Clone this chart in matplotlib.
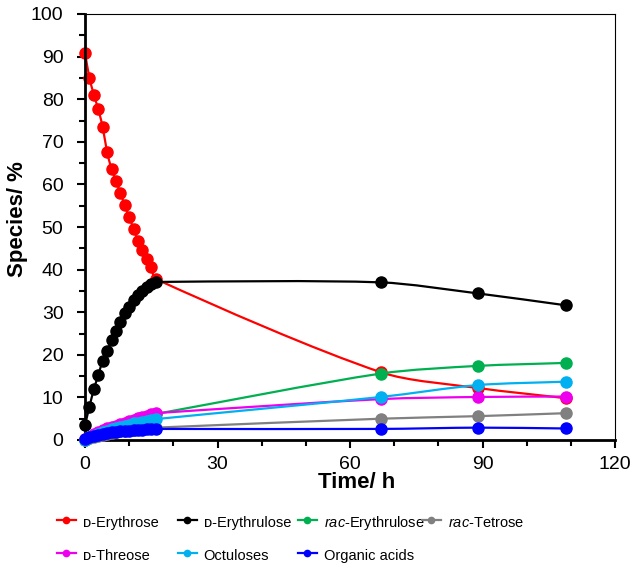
import numpy as np
import matplotlib
matplotlib.use('Agg')
import matplotlib.pyplot as plt
from matplotlib.path import Path
from matplotlib.patches import PathPatch
from matplotlib.lines import Line2D

plt.rcParams['font.family'] = ['Liberation Sans', 'DejaVu Sans']
plt.rcParams['mathtext.fontset'] = 'custom'
plt.rcParams['mathtext.it'] = 'Liberation Sans:italic'
plt.rcParams['mathtext.rm'] = 'Liberation Sans'

# sampling times (h)
time_h = [0, 1, 2, 3, 4, 5, 6, 7, 8, 9, 10, 11, 12, 13, 14, 15, 16, 67, 89, 109]

# species (%)
d_erythrose = [90.9, 85.0, 81.1, 77.6, 73.5, 67.6, 63.7, 60.9, 58.0, 55.1, 52.3, 49.6, 46.8, 44.6, 42.5, 40.5, 37.8, 15.9, 12.2, 9.8]
d_erythrulose = [3.5, 7.8, 11.9, 15.2, 18.6, 20.8, 23.4, 25.6, 27.8, 29.8, 31.3, 32.8, 34.0, 35.0, 35.9, 36.6, 37.1, 37.0, 34.4, 31.6]
rac_erythrulose = [0.1, 0.5, 0.9, 1.4, 1.8, 2.2, 2.6, 3.0, 3.4, 3.8, 4.2, 4.5, 4.9, 5.2, 5.5, 5.8, 6.1, 15.6, 17.4, 18.1]
rac_tetrose = [0.1, 0.4, 0.7, 1.0, 1.2, 1.4, 1.6, 1.8, 2.0, 2.1, 2.3, 2.4, 2.5, 2.6, 2.7, 2.8, 2.9, 5.0, 5.6, 6.3]
d_threose = [0.2, 0.8, 1.3, 1.8, 2.3, 2.7, 3.1, 3.4, 3.8, 4.1, 4.5, 4.8, 5.1, 5.4, 5.7, 6.0, 6.3, 9.6, 10.1, 10.2]
octuloses = [0.1, 0.6, 1.0, 1.4, 1.8, 2.2, 2.5, 2.8, 3.1, 3.4, 3.6, 3.9, 4.1, 4.3, 4.5, 4.7, 4.9, 10.1, 12.9, 13.7]
organic_acids = [0.2, 0.6, 0.9, 1.2, 1.4, 1.6, 1.8, 1.9, 2.0, 2.1, 2.2, 2.3, 2.4, 2.4, 2.5, 2.6, 2.6, 2.6, 2.9, 2.7]

series = [d_erythrose, d_erythrulose, rac_erythrulose, rac_tetrose, d_threose, octuloses, organic_acids]
labels = ['\u1d05-Erythrose', '\u1d05-Erythrulose', r'$\mathit{rac}$-Erythrulose', r'$\mathit{rac}$-Tetrose',
          '\u1d05-Threose', 'Octuloses', 'Organic acids']
colors = ['#FF0000', '#000000', '#00B050', '#808080', '#EE00EE', '#00B0F0', '#0000FF']


def smooth_path(x, y, sx=4.42, sy=4.26):
    # excel-like smoothed line: bezier segments through every point
    p = np.column_stack([np.asarray(x, float) * sx, np.asarray(y, float) * sy])
    d = np.zeros_like(p)
    d[0] = p[1] - p[0]
    d[-1] = p[-1] - p[-2]
    d[1:-1] = p[2:] - p[:-2]
    d /= np.linalg.norm(d, axis=1)[:, None]
    verts = [p[0]]
    codes = [Path.MOVETO]
    for i in range(len(p) - 1):
        L = np.linalg.norm(p[i + 1] - p[i])
        verts += [p[i] + d[i] * L / 3.5, p[i + 1] - d[i + 1] * L / 3.5, p[i + 1]]
        codes += [Path.CURVE4] * 3
    verts = np.array(verts) / [sx, sy]
    return Path(verts, codes)


fig = plt.figure(figsize=(6.4, 5.72), dpi=100)
ax = fig.add_axes([85 / 640, 1 - 440 / 572, 530 / 640, 426 / 572])

for i, (vals, c) in enumerate(zip(series, colors)):
    ax.add_patch(PathPatch(smooth_path(time_h, vals), fill=False, edgecolor=c, lw=1.6, zorder=2 + i, clip_on=False))
    ax.plot(time_h, vals, 'o', color=c, ms=8, zorder=2.5 + i, clip_on=False)

ax.set_xlim(0, 120)
ax.set_ylim(0, 100)
ax.set_xticks(np.arange(0, 121, 30))
ax.set_xticks(np.arange(0, 121, 10), minor=True)
ax.set_yticks(np.arange(0, 101, 10))
ax.set_yticks(np.arange(0, 101, 5), minor=True)
ax.tick_params(which='both', direction='out', width=1.5, labelsize=14, colors='black')
ax.tick_params(which='major', length=5.5)
ax.tick_params(which='minor', length=4.5)
ax.tick_params(axis='y', pad=10)
ax.tick_params(axis='x', pad=6)
for s in ['left', 'bottom']:
    ax.spines[s].set_linewidth(2)
for s in ['top', 'right']:
    ax.spines[s].set_linewidth(0.8)

ax.set_xlabel('Time/ h', fontsize=16, fontweight='bold')
ax.xaxis.set_label_coords(0.513, -0.075)
ax.set_ylabel('Species/ %', fontsize=16, fontweight='bold')
ax.yaxis.set_label_coords(-0.108, 0.519)

# legend laid out in fixed-width columns like the original
handles = [Line2D([], [], color=c, marker='o', ms=4.5, lw=1.6) for c in colors]
col_members = [[0, 4], [1, 5], [2, 6], [3]]
col_x = [57, 178, 298, 422]
for members, x in zip(col_members, col_x):
    fig.legend([handles[j] for j in members], [labels[j] for j in members],
               loc='upper left', bbox_to_anchor=(x / 640, 1 - 513 / 572),
               frameon=False, fontsize=10.5, borderpad=0, borderaxespad=0,
               handlelength=1.3, handleheight=1.6, handletextpad=0.45, labelspacing=0.95)

plt.savefig('out.png', dpi=100)
